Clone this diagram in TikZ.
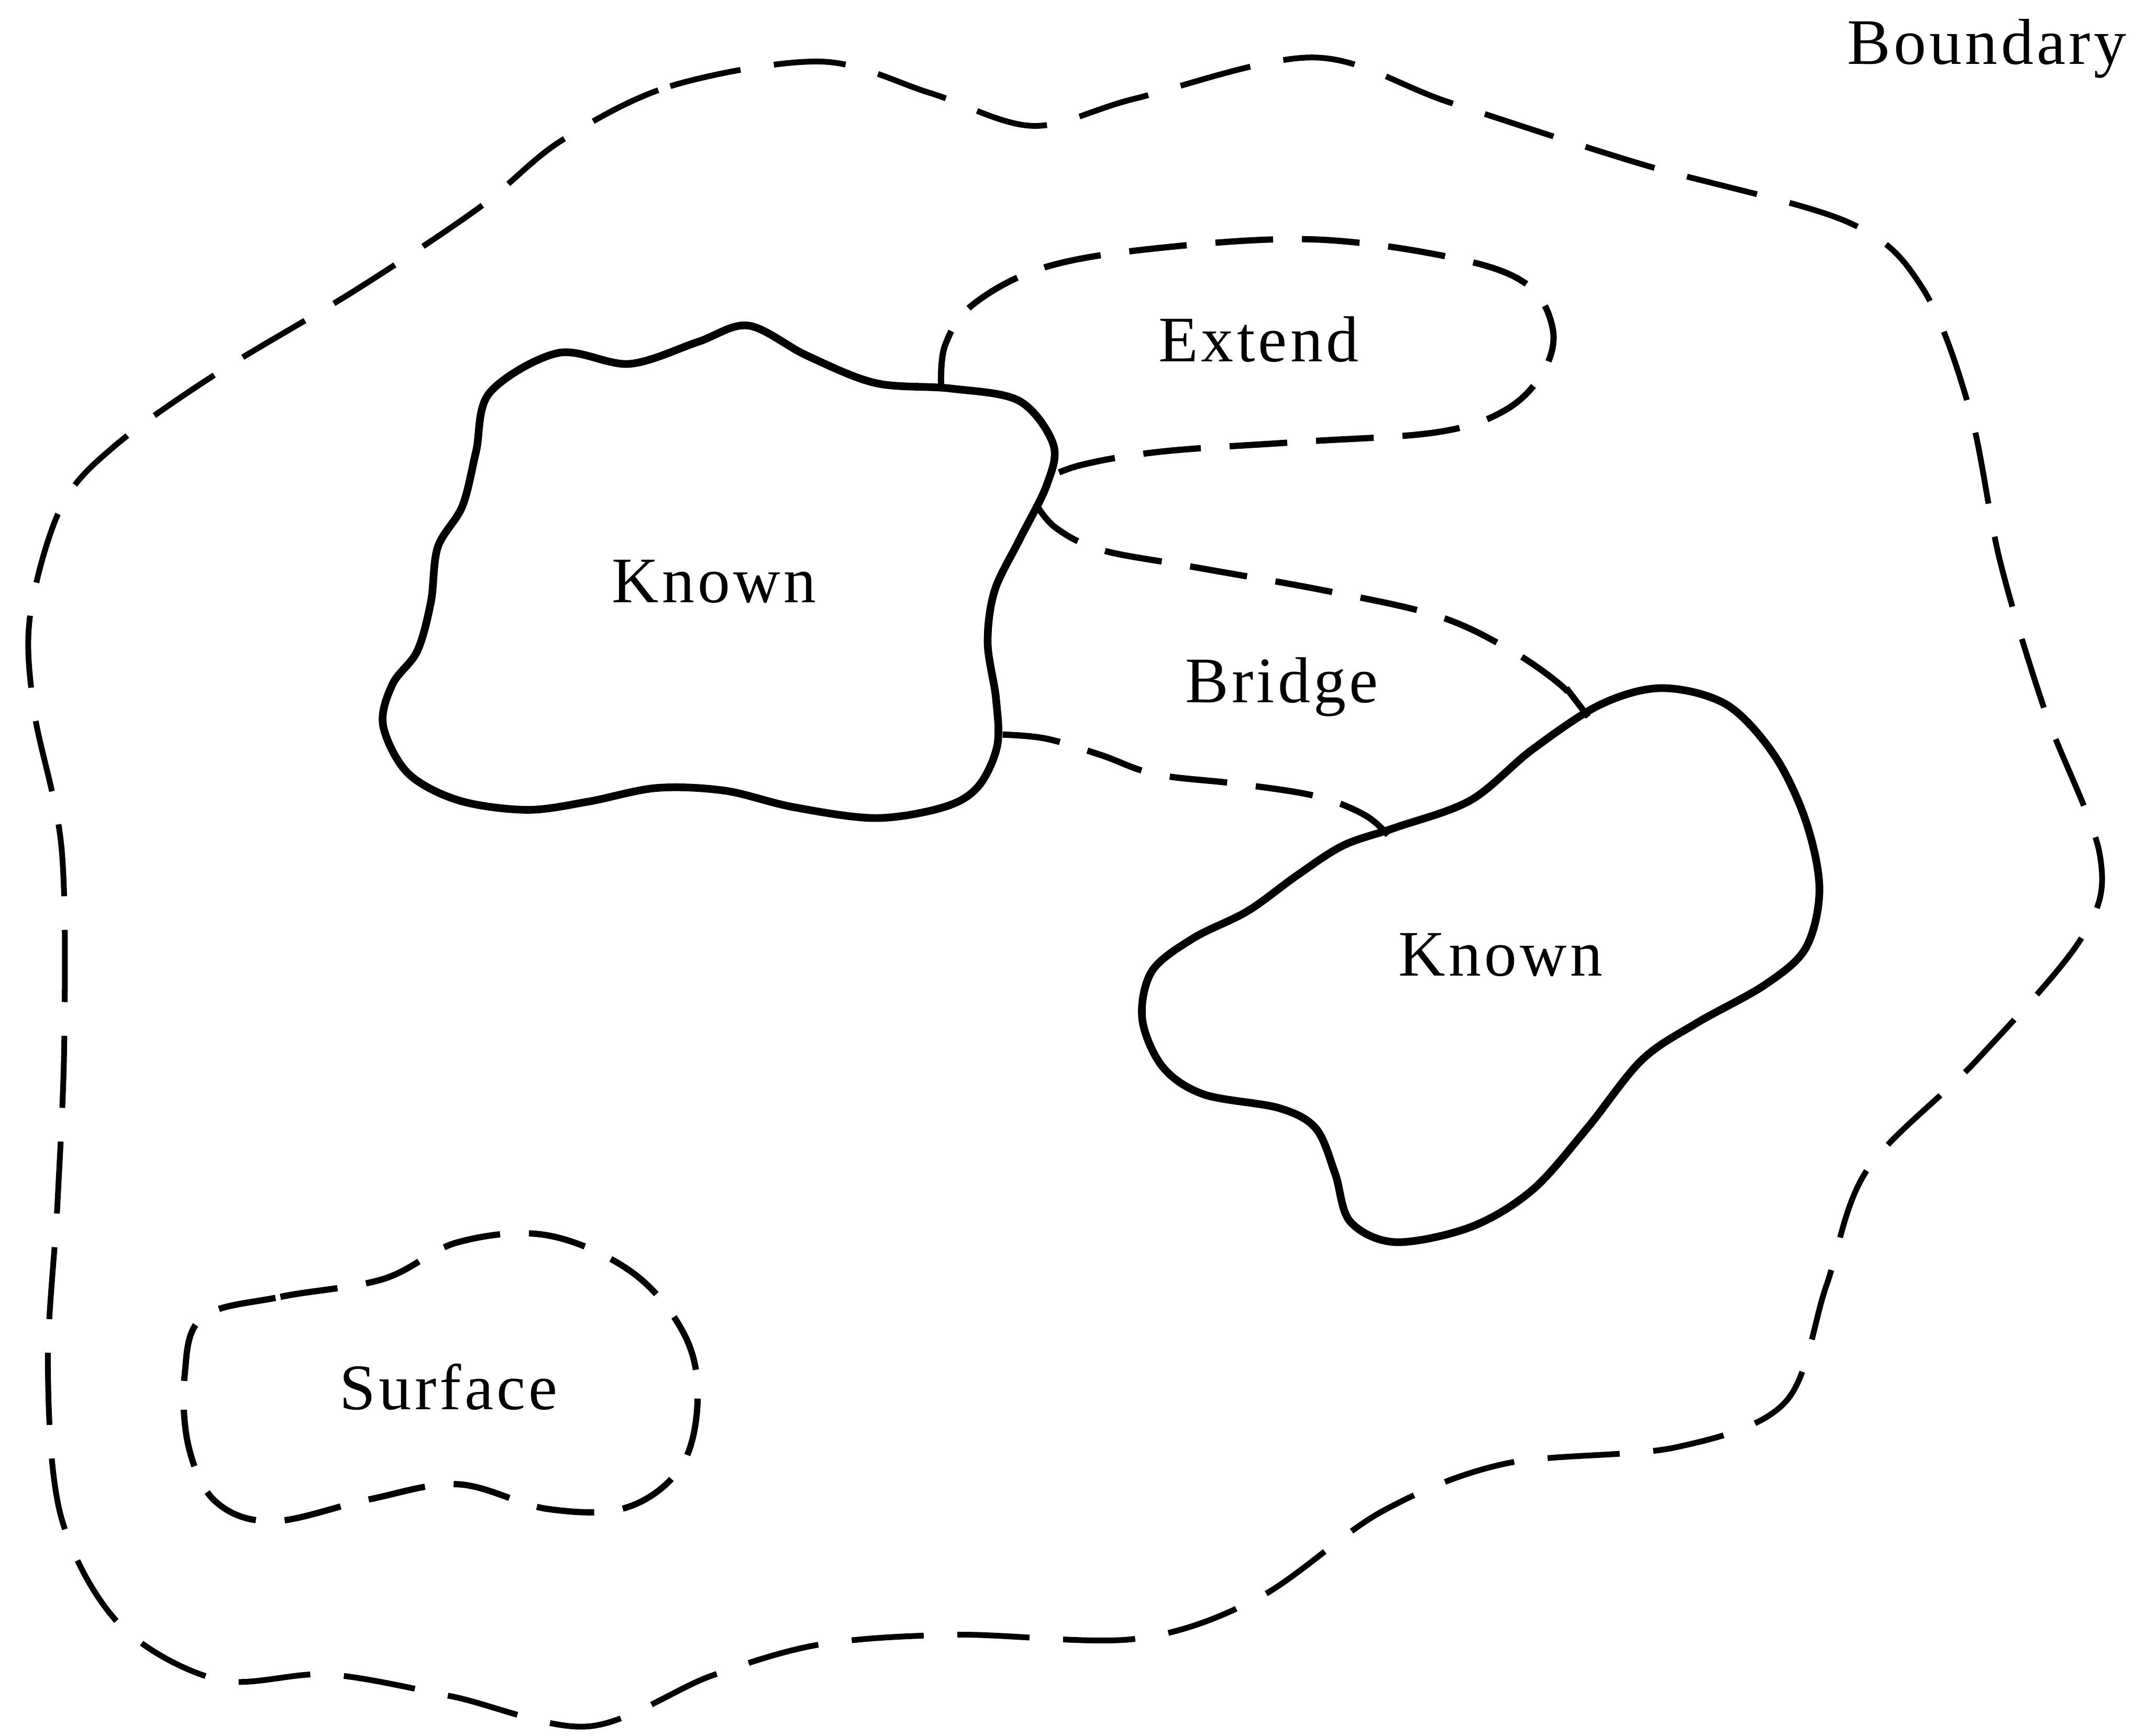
\documentclass[tikz,border=0pt]{standalone}
\usepackage{fontspec}
\setmainfont{Liberation Serif}[LetterSpace=5]
\begin{document}
\begin{tikzpicture}[x=0.01cm,y=-0.01cm,
  solidline/.style={line width=1.6pt,line join=round,line cap=round},
  dashline/.style={line width=1.3pt,dash pattern=on 12pt off 6pt,line join=round},
  tieline/.style={line width=1.3pt},
  outerline/.style={line width=1.2pt,dash pattern=on 15pt off 7pt,line join=round},
  lbl/.style={font=\fontsize{13.5pt}{15pt}\selectfont,inner sep=0pt}]
\useasboundingbox (0,0) rectangle (1568,1269);
% outer boundary
\draw[outerline] plot[smooth cycle,tension=0.55] coordinates {
 (410,103) (490,63) (600,45) (680,68) (755,92) (830,72) (960,42) (1060,75)
 (1200,120) (1350,162) (1405,210) (1440,300) (1462,410) (1495,520) (1535,625)
 (1522,685) (1445,775) (1365,855) (1335,940) (1305,1025) (1225,1058) (1100,1070)
 (1010,1105) (920,1168) (830,1198) (700,1195) (600,1202) (520,1225) (430,1262)
 (330,1240) (240,1224) (160,1228) (88,1188) (45,1110) (35,1000) (42,880) (47,760)
 (45,620) (25,520) (22,450) (45,370) (85,325) (160,272) (260,212) (350,152)};
% Surface
\draw[dashline] plot[smooth cycle,tension=0.6] coordinates {
 (148,963) (205,948) (280,935) (335,908) (400,903) (462,930) (500,975) (510,1022)
 (498,1072) (458,1102) (400,1103) (335,1085) (270,1096) (200,1112) (158,1098)
 (138,1058) (135,1005)};
% Extend
\draw[dashline] plot[smooth,tension=0.6] coordinates {
 (688,283) (691,252) (712,222) (765,195) (850,181) (960,175) (1060,188) (1115,207)
 (1135,240) (1128,272) (1100,300) (1050,316) (950,323) (850,330) (790,340) (760,352)};
% Bridge
\draw[dashline] plot[smooth,tension=0.6] coordinates {
 (757,368) (772,386) (805,402) (870,414) (970,432) (1050,450) (1102,474) (1140,500) (1160,522)};
\coordinate (bt1) at (1145,503);
\coordinate (bt2) at (1161,524);
\draw[tieline] (bt1) -- (bt2);
\draw[dashline] plot[smooth,tension=0.6] coordinates {
 (733,537) (765,540) (805,552) (845,566) (905,573) (962,582) (998,596) (1016,612)};
% Known 1
\draw[solidline] plot[smooth cycle,tension=0.55] coordinates {
 (358,287) (408,258) (460,266) (510,250) (547,238) (590,260) (640,280) (695,284)
 (745,293) (770,325) (765,355) (745,395) (727,432) (722,470) (728,510) (729,545)
 (715,575) (690,590) (640,598) (580,590) (530,578) (480,576) (430,586) (385,592)
 (335,585) (298,565) (280,530) (287,500) (305,476) (315,440) (320,400) (338,370)
 (348,330)};
% Known 2
\draw[solidline] plot[smooth cycle,tension=0.55] coordinates {
 (1020,605) (1075,585) (1120,548) (1170,515) (1215,503) (1262,515) (1297,552)
 (1320,600) (1330,650) (1320,693) (1290,720) (1240,748) (1200,775) (1160,825)
 (1120,870) (1075,897) (1020,908) (987,893) (976,858) (962,825) (935,810)
 (880,800) (850,780) (835,745) (842,710) (872,686) (912,666) (948,640) (982,618)};
% labels
\node[lbl,anchor=base east] (boundary) at (1555,47) {Boundary};
\node[lbl] (extend) at (920,248) {Extend};
\node[lbl] (known1) at (522,425) {Known};
\node[lbl] (bridge) at (937,502) {Bridge};
\node[lbl] (known2) at (1097,698) {Known};
\node[lbl] (surface) at (328,1014) {Surface};
\end{tikzpicture}
\end{document}
